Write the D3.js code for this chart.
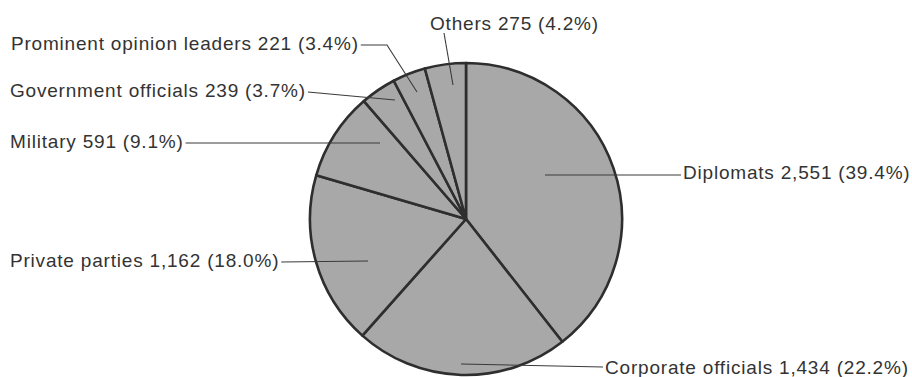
<!DOCTYPE html>
<html>
<head>
<meta charset="utf-8">
<script src="https://cdn.jsdelivr.net/npm/d3@7"></script>
<style>
  html, body { margin: 0; padding: 0; background: #fff; }
  svg { display: block; }
  .lbl { font-family: "Liberation Sans", Arial, Helvetica, sans-serif; font-size: 19px; fill: #333; letter-spacing: 0.8px; }
</style>
</head>
<body>
<svg id="chart" width="912" height="377"></svg>
<script>
// Slices in clockwise order, starting at 12 o'clock
const categories = ["Diplomats", "Corporate officials", "Private parties", "Military",
                    "Government officials", "Prominent opinion leaders", "Others"];
const counts = [2551, 1434, 1162, 591, 239, 221, 275];

// Label placement: text anchor and leader-line points (last point sits inside the slice).
// Left-side labels get their first point from the end of the text.
const labelLayout = [
  { side: "right", tx: 683, ty: 179, pts: [[681, 175], [545, 175]] },
  { side: "right", tx: 605, ty: 374, pts: [[603, 367], [461, 364]] },
  { side: "left",  tx: 10,  ty: 267, pts: [[368, 261]] },
  { side: "left",  tx: 10,  ty: 148, pts: [[380, 143]] },
  { side: "left",  tx: 10,  ty: 97,  pts: [[395, 100]] },
  { side: "left",  tx: 11,  ty: 50,  pts: [[387, 45], [417, 92]] },
  { side: "top",   tx: 430, ty: 30,  pts: [[444, 33], [453, 85]] }
];

const svg = d3.select("#chart");
const cx = 466, cy = 219, radius = 156;

const data = categories.map((c, i) => ({ name: c, value: counts[i] }));
const total = d3.sum(counts);

const pie = d3.pie().value(d => d.value).sort(null);
const arc = d3.arc().innerRadius(0).outerRadius(radius);

const g = svg.append("g").attr("transform", `translate(${cx},${cy})`);
g.selectAll("path.slice")
  .data(pie(data))
  .join("path")
  .attr("class", "slice")
  .attr("d", arc)
  .attr("fill", "#a8a8a8")
  .attr("stroke", "#2e2e2e")
  .attr("stroke-width", 2.6)
  .attr("stroke-linejoin", "round");

const fmt = d3.format(",");
const pct = d3.format(".1f");

data.forEach((d, i) => {
  const L = labelLayout[i];
  const text = svg.append("text")
    .attr("class", "lbl")
    .attr("x", L.tx)
    .attr("y", L.ty)
    .text(`${d.name} ${fmt(d.value)} (${pct(d.value / total * 100)}%)`);

  let pts = L.pts;
  if (L.side === "left") {
    const endX = L.tx + text.node().getComputedTextLength() + 2;
    pts = [[endX, L.ty - 5]].concat(L.pts);
  }
  svg.append("path")
    .attr("d", d3.line()(pts))
    .attr("fill", "none")
    .attr("stroke", "#3a3a3a")
    .attr("stroke-width", 1.1);
});
</script>
</body>
</html>
